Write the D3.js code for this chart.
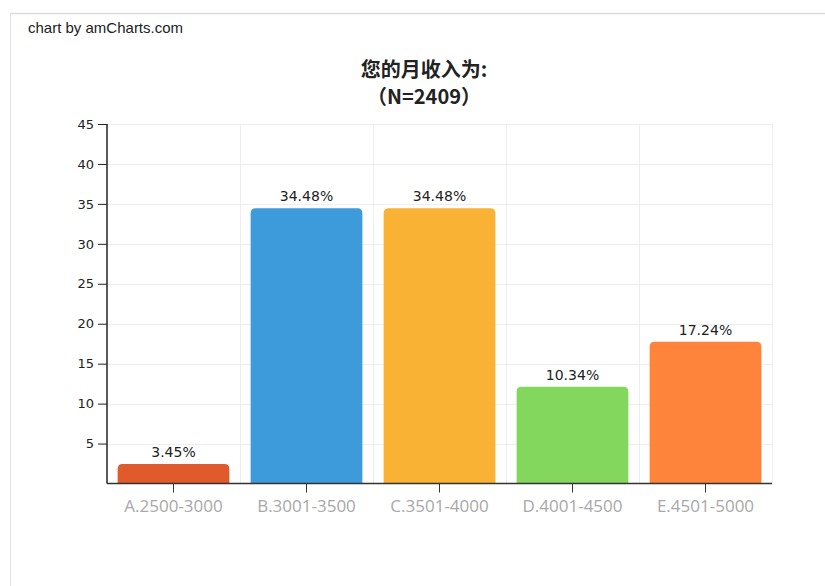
<!DOCTYPE html>
<html>
<head>
<meta charset="utf-8">
<script src="https://cdn.jsdelivr.net/npm/d3@7/dist/d3.min.js"></script>
<style>
  html, body { margin: 0; padding: 0; background: #fff; }
  svg { display: block; }
</style>
</head>
<body>
<svg id="chart" width="825" height="586"></svg>
<script>
const categories = ["A.2500-3000", "B.3001-3500", "C.3501-4000", "D.4001-4500", "E.4501-5000"];
const values = [2.45, 34.45, 34.45, 12.1, 17.75];
const valueLabels = ["3.45%", "34.48%", "34.48%", "10.34%", "17.24%"];
const colors = ["#E15A2B", "#3D9BDB", "#F9B233", "#83D75C", "#FE843C"];
const yTicks = [5, 10, 15, 20, 25, 30, 35, 40, 45];
const titleLines = ["您的月收入为:", "（N=2409）"];
const credit = "chart by amCharts.com";

const svg = d3.select("#chart");
const W = 825, H = 586;
const plot = { left: 107, right: 772, top: 124, bottom: 483.5 };

// frame
svg.append("line").attr("x1", 10).attr("x2", W).attr("y1", 13.5).attr("y2", 13.5)
  .attr("stroke", "#dcdcdc").attr("stroke-width", 1.5);
svg.append("line").attr("x1", 10.5).attr("x2", 10.5).attr("y1", 13).attr("y2", H)
  .attr("stroke", "#e2e2e2").attr("stroke-width", 1);

svg.append("text").attr("x", 28).attr("y", 33)
  .attr("font-family", "Liberation Sans, Arial, sans-serif").attr("font-size", 15)
  .attr("fill", "#222").text(credit);

const x = d3.scaleBand().domain(categories).range([plot.left, plot.right])
  .paddingInner(0.16).paddingOuter(0.08);
const y = d3.scaleLinear().domain([0, 45]).range([plot.bottom, plot.top]);

// grid
const g = svg.append("g");
g.selectAll("line.h").data(yTicks).enter().append("line")
  .attr("x1", plot.left).attr("x2", plot.right)
  .attr("y1", d => Math.round(y(d)) + 0.5).attr("y2", d => Math.round(y(d)) + 0.5)
  .attr("stroke", "#eeeeee").attr("stroke-width", 1);
const step = x.step();
g.selectAll("line.v").data(d3.range(1, categories.length + 1)).enter().append("line")
  .attr("x1", i => Math.round(plot.left + i * step) + 0.5)
  .attr("x2", i => Math.round(plot.left + i * step) + 0.5)
  .attr("y1", plot.top).attr("y2", plot.bottom)
  .attr("stroke", "#eeeeee").attr("stroke-width", 1);

// bars
const r = 5;
function barPath(x0, w, yt, yb) {
  const rr = Math.min(r, (yb - yt));
  return `M${x0},${yb} L${x0},${yt + rr} Q${x0},${yt} ${x0 + rr},${yt} L${x0 + w - rr},${yt} Q${x0 + w},${yt} ${x0 + w},${yt + rr} L${x0 + w},${yb} Z`;
}
svg.selectAll("path.bar").data(categories).enter().append("path")
  .attr("class", "bar")
  .attr("d", (c, i) => barPath(x(c), x.bandwidth(), y(values[i]), y(0)))
  .attr("fill", (c, i) => colors[i]);

// value labels
svg.selectAll("text.val").data(categories).enter().append("text")
  .attr("x", c => x(c) + x.bandwidth() / 2)
  .attr("y", (c, i) => y(values[i]) - 7)
  .attr("text-anchor", "middle")
  .attr("font-family", "DejaVu Sans, Verdana, sans-serif").attr("font-size", 14)
  .attr("fill", "#222")
  .text((c, i) => valueLabels[i]);

// y axis
const yAxis = d3.axisLeft(y).tickValues(yTicks).tickSize(9).tickPadding(4);
const ya = svg.append("g").attr("transform", `translate(${plot.left},0)`).call(yAxis);
ya.select(".domain").attr("d", `M0,${plot.top}V${plot.bottom}`).attr("stroke", "#222").attr("stroke-width", 1.5);
ya.selectAll(".tick line").attr("stroke", "#222");
ya.selectAll(".tick text").attr("font-family", "DejaVu Sans, Verdana, sans-serif").attr("font-size", 13).attr("fill", "#222");

// x axis
const xAxis = d3.axisBottom(x).tickSize(9).tickPadding(7);
const xa = svg.append("g").attr("transform", `translate(0,${plot.bottom})`).call(xAxis);
xa.select(".domain").attr("d", `M${plot.left},0H${plot.right}`).attr("stroke", "#333").attr("stroke-width", 1.5);
xa.selectAll(".tick line").attr("stroke", "#333");
xa.selectAll(".tick text").attr("font-family", "Open Sans, sans-serif").attr("font-size", 17)
  .attr("fill", "#a8a8a8").attr("dy", "0.72em");

// title
svg.selectAll("text.title").data(titleLines).enter().append("text")
  .attr("x", 424).attr("y", (d, i) => 77 + i * 27)
  .attr("text-anchor", "middle")
  .attr("font-family", "Noto Sans CJK SC, sans-serif").attr("font-weight", "bold")
  .attr("font-size", 20).attr("fill", "#222")
  .text(d => d);
</script>
</body>
</html>
